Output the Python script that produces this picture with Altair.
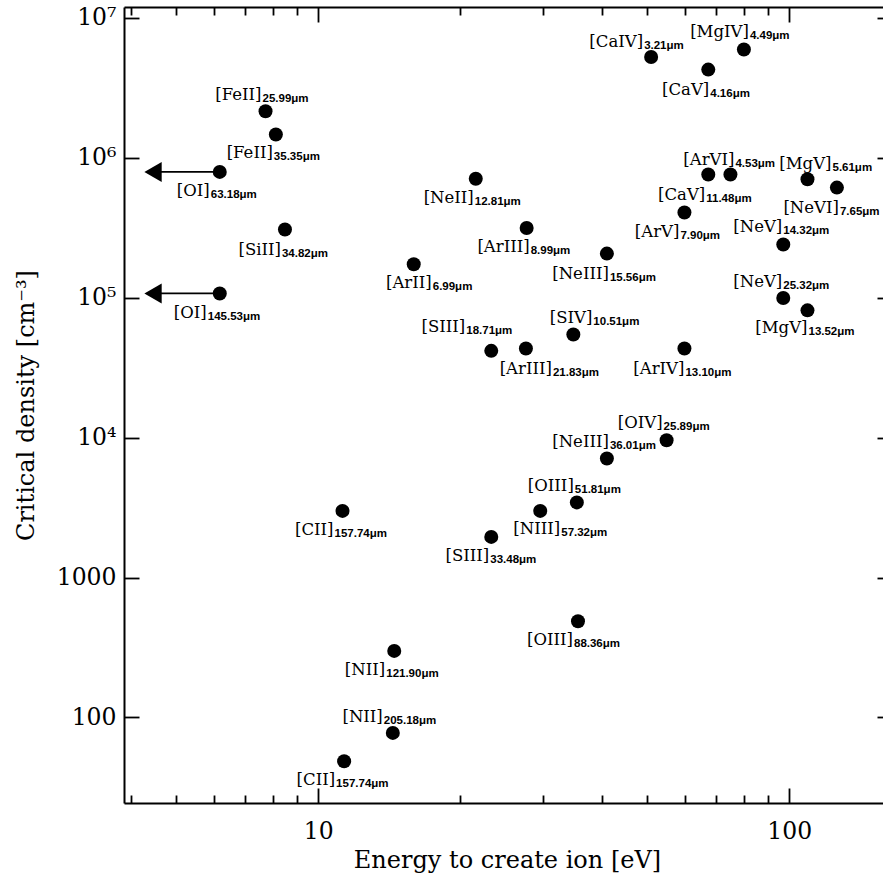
import math
import altair as alt
import pandas as pd

# ---------------- data ----------------
ions = ["[FeII]", "[FeII]", "[OI]", "[SiII]", "[OI]", "[ArII]", "[NeII]", "[ArIII]", "[NeIII]",
        "[CaIV]", "[MgIV]", "[CaV]", "[CaV]", "[ArVI]", "[MgV]", "[NeVI]", "[ArV]", "[NeV]", "[NeV]",
        "[MgV]", "[SIV]", "[SIII]", "[ArIII]", "[ArIV]", "[OIV]", "[NeIII]", "[OIII]", "[NIII]", "[SIII]",
        "[CII]", "[OIII]", "[NII]", "[NII]", "[CII]"]
wavelengths = ["25.99", "35.35", "63.18", "34.82", "145.53", "6.99", "12.81", "8.99", "15.56",
               "3.21", "4.49", "4.16", "11.48", "4.53", "5.61", "7.65", "7.90", "14.32", "25.32",
               "13.52", "10.51", "18.71", "21.83", "13.10", "25.89", "36.01", "51.81", "57.32", "33.48",
               "157.74", "88.36", "121.90", "205.18", "157.74"]
energy = [7.73, 8.13, 6.18, 8.50, 6.18, 15.95, 21.6, 27.7, 41.0,
          50.9, 80.1, 67.3, 67.3, 75.0, 109.3, 126.2, 59.9, 97.1, 97.1,
          109.3, 34.8, 23.3, 27.6, 59.9, 54.9, 41.0, 35.4, 29.6, 23.3,
          11.26, 35.6, 14.5, 14.4, 11.35]
density = [2.14e6, 1.46e6, 7.9e5, 3.06e5, 1.07e5, 1.73e5, 7.05e5, 3.14e5, 2.06e5,
           5.23e6, 5.91e6, 4.25e6, 7.57e5, 7.57e5, 7.0e5, 6.1e5, 4.05e5, 2.39e5, 9.93e4,
           8.1e4, 5.45e4, 4.16e4, 4.33e4, 4.33e4, 9.57e3, 7.08e3, 3.44e3, 2.99e3, 1.95e3,
           2.99e3, 487, 299, 77.6, 48.7]

# upper-limit arrows (the two [OI] lines)
arrow_ions = ["[OI]", "[OI]"]
arrow_from = [6.18, 6.18]
arrow_to = [4.46, 4.46]
arrow_density = [7.9e5, 1.07e5]

x_major = [10, 100]
x_minor = [4, 5, 6, 7, 8, 9, 20, 30, 40, 50, 60, 70, 80, 90]
y_major = [100, 1000, 1e4, 1e5, 1e6, 1e7]

# ---------------- layout (label offsets in pixels, relative to each point) ----------------
label_dx = [-4, -3, -10, -4, -13, 18, -2, 3, 2,
            -8, 5, 1, -3, 4, 24, 2, -5, -1, -1,
            0, 19, -26, 26, 0, -4, 2, -3, 20, -2,
            -9, -5, -9, -10, -9]
label_dy = [-11, 23, 24, 25, 25, 24, 24, 24, 25,
            -10, -13, 25, 26, -9, -10, 25, 24, -13, -11,
            23, -11, -19, 26, 26, -12, -12, -11, 23, 24,
            24, 24, 24, -11, 24]

W, H = 759, 796
XDOM = [3.87, 158.1]
YDOM = [24.5, 1.19e7]
px_dec_x = W / math.log10(XDOM[1] / XDOM[0])
px_dec_y = H / math.log10(YDOM[1] / YDOM[0])

df = pd.DataFrame({
    "ion": ions,
    "sub": [w + "μm" for w in wavelengths],
    "energy": energy,
    "density": density,
})
df["lx"] = [e * 10 ** (dx / px_dec_x) for e, dx in zip(energy, label_dx)]
df["ly"] = [d * 10 ** (-dy / px_dec_y) for d, dy in zip(density, label_dy)]

arr = pd.DataFrame({"ion": arrow_ions, "energy": arrow_from, "end": arrow_to, "density": arrow_density})

SERIF = "DejaVu Serif"
SUBFONT = "Liberation Sans"

xs = alt.Scale(type="log", domain=XDOM, nice=False)
ys = alt.Scale(type="log", domain=YDOM, nice=False)


def xenc(field, axis):
    return alt.X(f"{field}:Q", scale=xs, axis=axis)


def yenc(field, axis):
    return alt.Y(f"{field}:Q", scale=ys, axis=axis)


def tick_axis(orient, values, size, off):
    return alt.Axis(orient=orient, values=values, offset=-off, tickSize=size, ticks=True,
                    tickColor="black", tickWidth=1.8, labels=False, domain=False, grid=False,
                    title=None)


AX_BOTTOM_MAIN = alt.Axis(
    orient="bottom", values=x_major, format="d", domain=True, domainColor="black", domainWidth=2,
    ticks=False, tickSize=0, grid=False, labelFont=SERIF, labelFontSize=23.5, labelColor="black",
    labelPadding=16, labelFlush=False, title="Energy to create ion [eV]", titleFont=SERIF,
    titleFontSize=24, titleFontWeight="normal", titleColor="black", titleX=383, titleY=64,
    titleAlign="center", titleBaseline="alphabetic")
AX_BOTTOM_MINOR = tick_axis("bottom", x_minor, 8, 8)
AX_BOTTOM_MAJOR = tick_axis("bottom", x_major, 15, 15)
AX_TOP_DOMAIN = alt.Axis(orient="top", domain=True, domainColor="black", domainWidth=2,
                         ticks=False, labels=False, grid=False, title=None)
AX_TOP_MINOR = tick_axis("top", x_minor, 8, 8)
AX_TOP_MAJOR = tick_axis("top", x_major, 15, 15)

AX_LEFT_MAIN = alt.Axis(
    orient="left", values=y_major, domain=True, domainColor="black", domainWidth=2,
    ticks=False, tickSize=0, grid=False, labelFont=SERIF, labelFontSize=23.5, labelColor="black",
    labelPadding=8, labelFlush=False,
    labelExpr="datum.value > 5e6 ? '10⁷' : datum.value > 5e5 ? '10⁶' : datum.value > 5e4 ? '10⁵' : datum.value > 5e3 ? '10⁴' : format(datum.value, 'd')",
    title="Critical density [cm⁻³]", titleFont=SERIF, titleFontSize=24, titleFontWeight="normal",
    titleColor="black", titleAngle=-90, titleX=-91, titleY=398, titleAlign="center",
    titleBaseline="alphabetic")
AX_LEFT_TICKS = tick_axis("left", y_major, 15, 15)
AX_RIGHT_TICKS = tick_axis("right", y_major, 6, 6)

points = alt.Chart(df).mark_circle(size=196, color="black", opacity=1).encode(
    x=xenc("energy", AX_BOTTOM_MAIN), y=yenc("density", AX_LEFT_MAIN))

arrow_lines = alt.Chart(arr).mark_rule(color="black", strokeWidth=1.8).encode(
    x=xenc("end", AX_BOTTOM_MINOR), x2="energy:Q", y=yenc("density", AX_LEFT_TICKS))

arrow_heads = alt.Chart(arr).mark_point(shape="triangle-left", size=400, filled=True,
                                        color="black", opacity=1).encode(
    x=xenc("end", AX_BOTTOM_MAJOR), y=yenc("density", AX_RIGHT_TICKS))

main_text = alt.Chart(df).mark_text(align="right", baseline="alphabetic", font=SERIF,
                                    fontSize=16.5, color="black").encode(
    x=xenc("lx", AX_TOP_DOMAIN), y=yenc("ly", None), text="ion:N")

sub_text = alt.Chart(df).mark_text(align="left", baseline="alphabetic", dx=1, dy=2, font=SUBFONT,
                                   fontWeight="bold", fontSize=11.5, color="black").encode(
    x=xenc("lx", AX_TOP_MINOR), y=yenc("ly", None), text="sub:N")

top_major = alt.Chart(df).mark_circle(opacity=0).encode(
    x=xenc("energy", AX_TOP_MAJOR), y=yenc("density", None))

chart = alt.layer(points, arrow_lines, arrow_heads, main_text, sub_text, top_major).resolve_scale(
    x="shared", y="shared").resolve_axis(x="independent", y="independent").properties(
    width=W, height=H, autosize=alt.AutoSizeParams(type="none"),
    padding={"left": 124, "top": 7, "right": 0, "bottom": 77},
    background="white").configure_view(stroke=None)

chart.save("out.html", embed_options={"renderer": "svg", "actions": False})
